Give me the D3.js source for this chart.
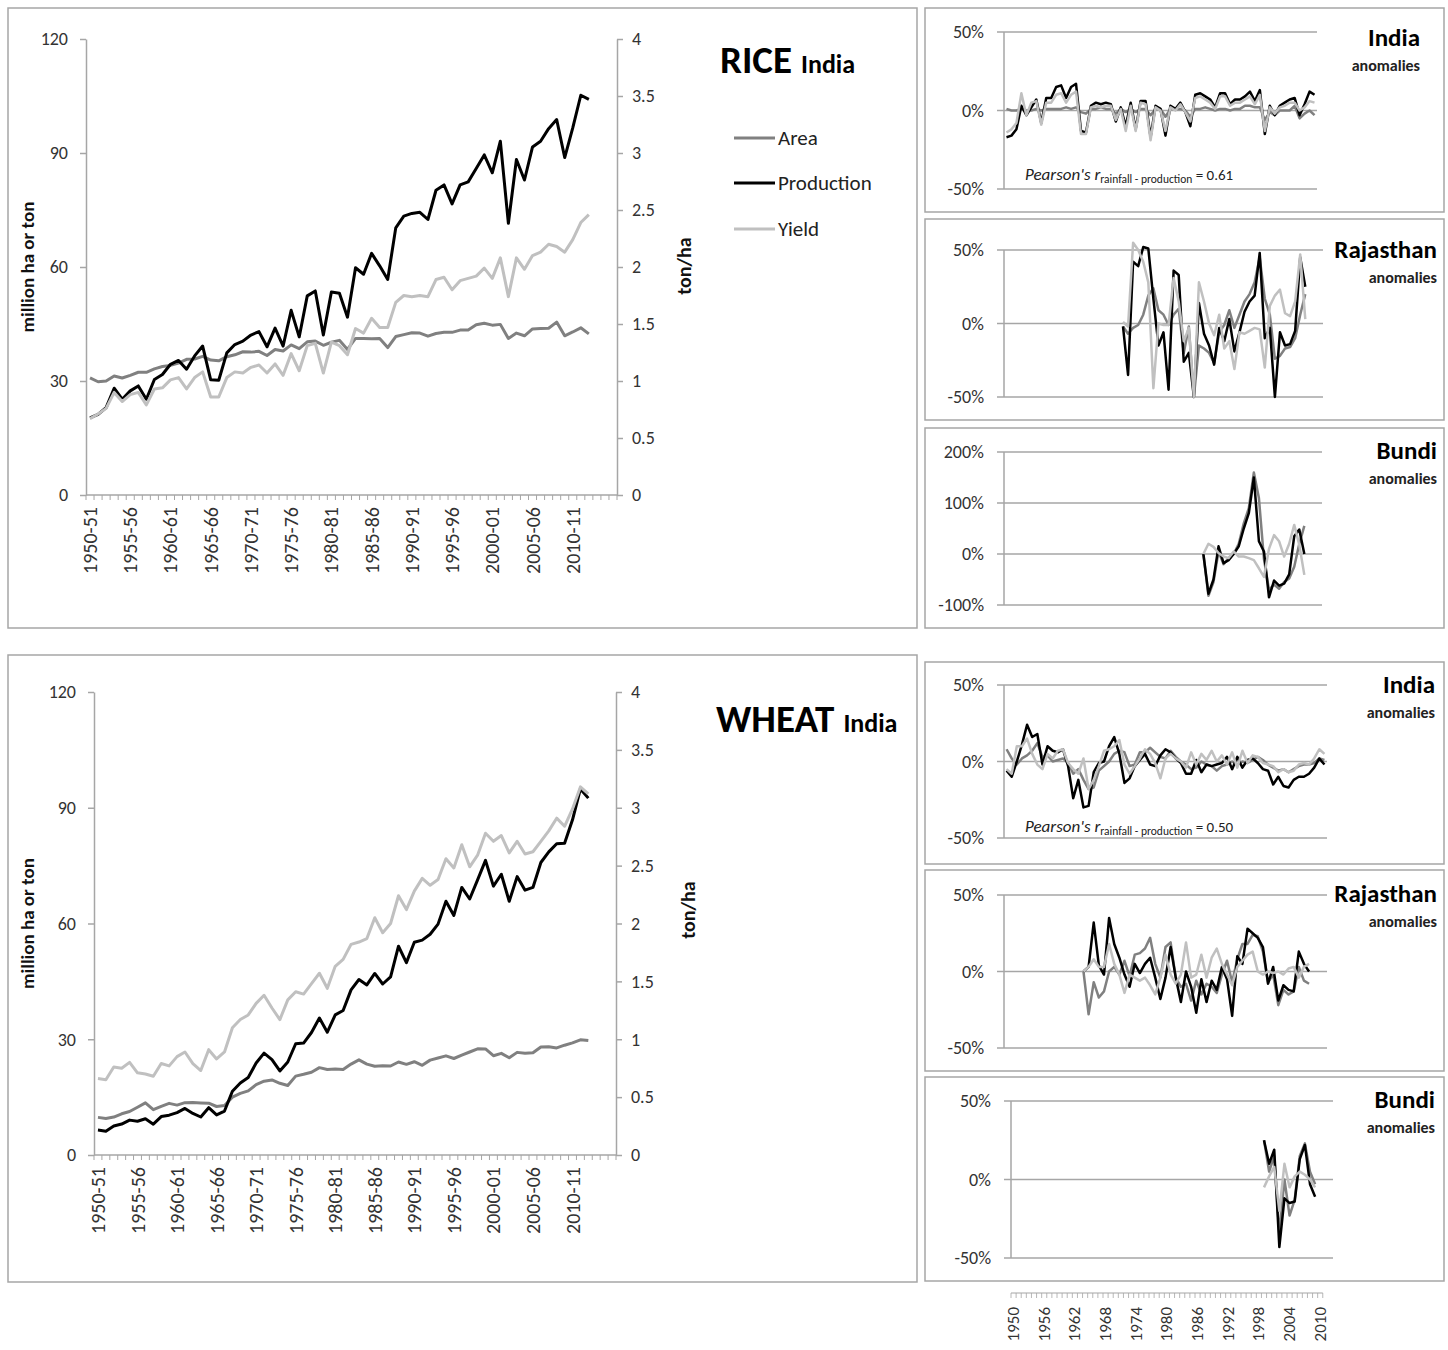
<!DOCTYPE html>
<html>
<head>
<meta charset="utf-8">
<script src="https://cdn.jsdelivr.net/npm/d3@7"></script>
<style>
  body { margin: 0; background: #fff; }
  svg { display: block; }
</style>
</head>
<body>
<div id="chart"></div>
<script>
// ---- categories / ticks ----
const seasons = d3.range(1950, 2016).map(y => y + "-" + String((y + 1) % 100).padStart(2, "0"));
const seasonTicks = ["1950-51", "1955-56", "1960-61", "1965-66", "1970-71", "1975-76", "1980-81",
  "1985-86", "1990-91", "1995-96", "2000-01", "2005-06", "2010-11"];
const leftTicks = [0, 30, 60, 90, 120];
const rightTicks = [0, 0.5, 1, 1.5, 2, 2.5, 3, 3.5, 4];
const anomYears = d3.range(1950, 2013);
const anomYearTicks = [1950, 1956, 1962, 1968, 1974, 1980, 1986, 1992, 1998, 2004, 2010];

// ---- RICE India (million ha, million ton, ton/ha), 1950-51 .. 2012-13 ----
const riceArea = [30.8, 29.8, 30.0, 31.3, 30.8, 31.5, 32.3, 32.3, 33.2, 33.8,
  34.1, 34.7, 35.7, 35.8, 36.5, 35.5, 35.3, 36.4, 36.9, 37.7,
  37.6, 37.8, 36.7, 38.3, 37.9, 39.5, 38.5, 40.3, 40.5, 39.4,
  40.2, 40.7, 38.3, 41.2, 41.2, 41.1, 41.2, 38.8, 41.7, 42.2,
  42.7, 42.6, 41.8, 42.5, 42.8, 42.8, 43.4, 43.4, 44.8, 45.2,
  44.7, 44.9, 41.2, 42.6, 41.9, 43.7, 43.8, 43.9, 45.5, 41.9,
  42.9, 44.0, 42.4];
const riceProd = [20.3, 21.2, 23.0, 28.1, 25.2, 27.4, 28.7, 25.2, 30.4, 31.7,
  34.4, 35.4, 33.1, 36.6, 39.2, 30.3, 30.2, 37.4, 39.6, 40.5,
  42.1, 43.0, 39.0, 43.9, 39.2, 48.6, 41.6, 52.4, 53.7, 42.1,
  53.4, 53.1, 46.8, 59.8, 58.1, 63.6, 60.3, 56.7, 70.3, 73.4,
  74.1, 74.4, 72.5, 80.2, 81.6, 76.6, 81.6, 82.4, 85.9, 89.5,
  84.8, 93.1, 71.5, 88.3, 82.9, 91.6, 93.1, 96.4, 98.8, 88.8,
  96.6, 105.2, 104.1];
const riceYield = [0.67, 0.71, 0.76, 0.90, 0.82, 0.88, 0.90, 0.79, 0.93, 0.94,
  1.01, 1.03, 0.93, 1.03, 1.08, 0.86, 0.86, 1.03, 1.08, 1.07,
  1.12, 1.14, 1.07, 1.15, 1.05, 1.24, 1.09, 1.31, 1.33, 1.07,
  1.34, 1.31, 1.23, 1.46, 1.42, 1.55, 1.47, 1.47, 1.69, 1.75,
  1.74, 1.75, 1.74, 1.89, 1.91, 1.80, 1.88, 1.90, 1.92, 1.99,
  1.90, 2.08, 1.74, 2.08, 1.98, 2.10, 2.13, 2.20, 2.18, 2.13,
  2.24, 2.39, 2.46];

// ---- WHEAT India ----
const wheatArea = [9.75, 9.47, 9.83, 10.68, 11.26, 12.37, 13.52, 11.73, 12.62, 13.38,
  12.93, 13.57, 13.59, 13.50, 13.42, 12.57, 12.84, 14.99, 15.96, 16.63,
  18.24, 19.14, 19.46, 18.58, 18.01, 20.45, 20.92, 21.46, 22.64, 22.17,
  22.28, 22.14, 23.57, 24.67, 23.56, 23.00, 23.13, 23.06, 24.11, 23.50,
  24.17, 23.26, 24.59, 25.15, 25.70, 25.01, 25.89, 26.70, 27.52, 27.49,
  25.73, 26.34, 25.20, 26.60, 26.38, 26.48, 27.99, 28.04, 27.75, 28.46,
  29.07, 29.86, 29.65];
const wheatProd = [6.46, 6.18, 7.50, 8.02, 9.04, 8.76, 9.40, 7.99, 9.96, 10.32,
  11.00, 12.07, 10.78, 9.85, 12.26, 10.40, 11.39, 16.54, 18.65, 20.09,
  23.83, 26.41, 24.74, 21.78, 24.10, 28.84, 29.01, 31.75, 35.51, 31.83,
  36.31, 37.45, 42.79, 45.48, 44.07, 47.05, 44.32, 46.17, 54.11, 49.85,
  55.14, 55.69, 57.21, 59.84, 65.77, 62.10, 69.35, 66.35, 71.29, 76.37,
  69.68, 72.77, 65.76, 72.16, 68.64, 69.35, 75.81, 78.57, 80.68, 80.80,
  86.87, 94.88, 92.50];
const wheatYield = [0.66, 0.65, 0.76, 0.75, 0.80, 0.71, 0.70, 0.68, 0.79, 0.77,
  0.85, 0.89, 0.79, 0.73, 0.91, 0.83, 0.89, 1.10, 1.17, 1.21,
  1.31, 1.38, 1.27, 1.17, 1.34, 1.41, 1.39, 1.48, 1.57, 1.44,
  1.63, 1.69, 1.82, 1.84, 1.87, 2.05, 1.92, 2.00, 2.24, 2.12,
  2.28, 2.39, 2.33, 2.38, 2.56, 2.48, 2.68, 2.49, 2.59, 2.78,
  2.71, 2.76, 2.61, 2.71, 2.60, 2.62, 2.71, 2.80, 2.91, 2.84,
  2.99, 3.18, 3.12];

// ---- anomalies (%) ----
const riceIndiaStart = 1950;
const riceIndiaArea = [1, 0, 0, 1, 0, 0, 1, 0, 1, 1, 1, 1, 2, 1, 2, -1, -2, 1, 1, 2,
  1, 1, -2, 1, -1, 1, -1, 1, 1, -3, 1, 1, -4, 1, 1, 1, 0, -4, 1, 1,
  2, 1, 0, 1, 1, 0, 1, 1, 3, 3, 2, 2, -6, -1, -3, 0, 0, 0, 3, -5, -2, 0, -3];
const riceIndiaProd = [-17, -16, -12, 3, -3, 2, 7, -8, 8, 8, 15, 16, 8, 15, 17, -13, -14, 3, 5, 4,
  5, 4, -7, 2, -10, 5, -12, 6, 6, -17, 3, 1, -16, 3, 1, 5, -1, -10, 10, 11,
  9, 7, 2, 11, 11, 4, 7, 7, 9, 12, 6, 13, -15, 3, -3, 3, 5, 7, 8, -3, 4, 12, 10];
const riceIndiaYield = [-14, -12, -8, 11, -3, 5, 6, -9, 5, 5, 10, 11, 5, 10, 12, -15, -15, 2, 3, 2,
  3, 3, -6, 1, -13, 3, -13, 5, 4, -19, 2, 0, -13, 2, 0, 4, -1, -7, 8, 9,
  7, 5, 1, 9, 9, 3, 5, 5, 7, 9, 4, 10, -13, 2, -2, 2, 3, 5, 5, 0, 2, 6, 5];

const riceRajStart = 1973;
const riceRajArea = [-2, -7, -3, -1, 6, 19, 24, 9, 6, -1, 6, 10, -20, -2, -50, -15, -17, -20, -27, -6,
  -1, 9, -3, 6, 15, 20, 28, 45, 17, 6, -24, -22, -17, -16, -10, 6, 20];
const riceRajProd = [-2, -35, 42, 39, 52, 51, 17, -15, -6, -45, 36, 33, -26, -20, -50, 14, -7, -15, -28, -3,
  -12, 3, -19, -6, 8, 15, 19, 48, -10, -3, -50, -6, -15, -14, -5, 45, 25];
const riceRajYield = [1, -2, 55, 50, 42, 28, -44, 0, -1, -1, 31, 15, -12, -3, -50, 28, 15, 0, -8, 6,
  -17, -12, -31, -6, -7, -5, -3, -4, -30, 12, 19, 23, 7, 5, 15, 47, 3];

const riceBundiStart = 1989;
const riceBundiArea = [0, -82, -55, 5, -20, -8, 0, 20, 60, 90, 160, 110, -10, -70, -60, -68, -55, -48, -25, 20, 55];
const riceBundiProd = [0, -78, -50, 15, -18, -12, 0, 15, 50, 80, 150, 25, 5, -85, -52, -62, -58, -40, 35, 48, 0];
const riceBundiYield = [0, 20, 14, 2, -5, -8, 5, -5, -5, -8, -12, -28, -45, 10, 37, 25, -5, 20, 57, 18, -41];

const wheatIndiaStart = 1950;
const wheatIndiaArea = [8, 2, -2, 2, 4, 7, 12, 3, 4, 0, 1, 2, -1, -8, -5, -12, -18, -17, -6, -3,
  0, 5, 7, 6, -3, -2, 6, 6, 9, 6, 3, 2, 7, 3, 0, -2, -5, -4, 0, -2,
  -3, -6, -3, -2, 0, -2, 0, -1, 1, 3, 1, -2, -4, -6, -5, -7, -5, -3, -2, -2, -1, 2, 1];
const wheatIndiaProd = [-6, -10, 0, 11, 24, 16, 18, -2, 10, 7, 6, 8, -3, -24, -12, -30, -29, -7, -1, 0,
  10, 16, 5, -14, -11, -3, 1, 5, -2, -3, 4, 8, 6, 2, -1, -8, -8, 1, -7, -2,
  -3, -2, -1, 3, -5, 3, -4, 1, 2, -1, -5, -6, -15, -10, -16, -17, -12, -10, -10, -8, -4, 2, -2];
const wheatIndiaYield = [-5, -8, 10, 10, 15, 5, -2, -5, 5, 2, 7, 8, -1, -5, -8, 2, -18, -12, -3, 7,
  8, 10, 14, -2, -8, -3, 2, 8, 5, -1, -11, 2, 5, 2, 0, -4, 6, -2, 5, 1,
  7, 0, 4, -2, 6, -4, 7, -1, 4, 3, -1, -2, -3, -7, -5, -7, -6, -2, -1, -2, 2, 8, 5];

const wheatRajStart = 1965;
const wheatRajArea = [0, -28, -7, -17, -13, 0, 3, -2, 7, -3, 11, 12, 15, 22, 5, -4, 16, 19, -4, -10,
  -8, -19, -6, -15, -8, -10, -14, -2, 7, -7, 8, 18, 18, 24, 23, 13, -7, -2, -22, -12, -15, -13, 3, -6, -8];
const wheatRajProd = [0, 3, 32, 4, -2, 35, 18, 9, -2, -10, 5, -1, 5, 9, -4, -18, -4, 16, -4, -20,
  0, -10, -27, -5, -20, -6, -12, 3, -5, -29, 10, 5, 28, 25, 22, 16, -8, 3, -19, -9, -12, -13, 13, 5, 0];
const wheatRajYield = [0, 3, 8, 3, 3, 18, 5, -2, -14, -2, -4, -6, -4, -9, -15, -4, 11, -2, -8, -2,
  19, -4, -2, 11, -4, 9, 15, 5, -2, -9, 3, 7, 11, 13, 0, -2, 0, -1, 0, -2, 2, 3, -4, 3, 5];

const wheatBundiStart = 1999;
const wheatBundiArea = [25, 5, 15, -35, 0, -23, -13, 15, 23, 5, -3];
const wheatBundiProd = [25, 10, 19, -43, -12, -15, -14, 13, 22, -3, -11];
const wheatBundiYield = [-5, 2, 8, -20, 10, -5, 2, 5, 3, 0, -5];

// ---- drawing ----
const FONT = "Carlito, Calibri, Lato, sans-serif";
const AXIS = "#a6a6a6";
const COL_AREA = "#808080", COL_PROD = "#000000", COL_YIELD = "#c0c0c0";

const svg = d3.select("#chart").append("svg")
  .attr("width", 1448).attr("height", 1350)
  .attr("font-family", FONT);

function box(x0, y0, x1, y1) {
  svg.append("rect")
    .attr("x", x0).attr("y", y0)
    .attr("width", x1 - x0).attr("height", y1 - y0)
    .attr("fill", "none").attr("stroke", AXIS).attr("stroke-width", 1.5);
}

function drawMain(c) {
  box(...c.box);
  const g = svg.append("g");
  const x = d3.scaleBand().domain(seasons).range([c.left, c.right]);
  const y = d3.scaleLinear().domain([0, 120]).range([c.bottom, c.top]);
  const y2 = d3.scaleLinear().domain([0, 4]).range([c.bottom, c.top]);

  const gl = g.append("g").attr("transform", `translate(${c.left},0)`)
    .call(d3.axisLeft(y).tickValues(leftTicks).tickSize(6).tickSizeOuter(0).tickPadding(12));
  const gr = g.append("g").attr("transform", `translate(${c.right},0)`)
    .call(d3.axisRight(y2).tickValues(rightTicks).tickFormat(d => String(d))
      .tickSize(6).tickSizeOuter(0).tickPadding(9));
  [gl, gr].forEach(a => {
    a.selectAll("path, line").attr("stroke", AXIS).attr("stroke-width", 1.5);
    a.selectAll("text").attr("font-family", FONT).attr("font-size", 18).attr("fill", "#333");
  });

  // category axis (Excel style ticks between categories)
  g.append("line")
    .attr("x1", c.left).attr("x2", c.right).attr("y1", c.bottom).attr("y2", c.bottom)
    .attr("stroke", AXIS).attr("stroke-width", 1.5);
  const edges = seasons.map(s => x(s)).concat([c.right]);
  g.selectAll(".ctick").data(edges).join("line").attr("class", "ctick")
    .attr("x1", d => d).attr("x2", d => d)
    .attr("y1", c.bottom).attr("y2", c.bottom + 5)
    .attr("stroke", AXIS).attr("stroke-width", 1);
  g.selectAll(".clab").data(seasonTicks).join("text").attr("class", "clab")
    .attr("transform", d => `translate(${x(d) + x.bandwidth() / 2},${c.bottom + 12}) rotate(-90)`)
    .attr("text-anchor", "end").attr("dominant-baseline", "central")
    .attr("font-size", 20).attr("fill", "#333").text(d => d);

  // axis titles
  g.append("text")
    .attr("transform", `translate(${c.yTitleX},${(c.top + c.bottom) / 2}) rotate(-90)`)
    .attr("text-anchor", "middle").attr("dominant-baseline", "central")
    .attr("font-weight", "bold").attr("font-size", 19).attr("fill", "#111")
    .text("million ha or ton");
  g.append("text")
    .attr("transform", `translate(${c.y2TitleX},${c.y2TitleY}) rotate(-90)`)
    .attr("text-anchor", "middle").attr("dominant-baseline", "central")
    .attr("font-weight", "bold").attr("font-size", 20).attr("fill", "#111")
    .text("ton/ha");

  // series
  const cx = (d, i) => x(seasons[i]) + x.bandwidth() / 2;
  [[c.area, y, COL_AREA], [c.prod, y, COL_PROD], [c.yld, y2, COL_YIELD]].forEach(([vals, sc, col]) => {
    g.append("path").datum(vals)
      .attr("fill", "none").attr("stroke", col).attr("stroke-width", 3)
      .attr("stroke-linejoin", "round")
      .attr("d", d3.line().x(cx).y(d => sc(d)));
  });

  // title
  const t = g.append("text").attr("x", c.titleX).attr("y", c.titleY)
    .attr("font-weight", "bold").attr("fill", "#000");
  t.append("tspan").attr("font-size", 39).text(c.title);
  t.append("tspan").attr("font-size", 26).attr("dx", 9).text("India");

  if (c.legend) {
    const items = [["Area", COL_AREA, 138], ["Production", COL_PROD, 183], ["Yield", COL_YIELD, 229]];
    items.forEach(([name, col, ly]) => {
      g.append("line").attr("x1", 734).attr("x2", 775).attr("y1", ly).attr("y2", ly)
        .attr("stroke", col).attr("stroke-width", 3);
      g.append("text").attr("x", 778).attr("y", ly).attr("dominant-baseline", "central")
        .attr("font-size", 21).attr("fill", "#222").text(name);
    });
  }
}

function drawAnom(c) {
  box(...c.box);
  const g = svg.append("g");
  const x = d3.scaleBand().domain(anomYears).range([c.left, c.right]);
  const y = d3.scaleLinear().domain(c.domain).range([c.bottom, c.top]);

  g.selectAll(".grid").data(c.ticks).join("line").attr("class", "grid")
    .attr("x1", c.left - 7).attr("x2", c.right)
    .attr("y1", d => y(d)).attr("y2", d => y(d))
    .attr("stroke", AXIS).attr("stroke-width", 1.5);
  g.append("line")
    .attr("x1", c.left).attr("x2", c.left)
    .attr("y1", y(c.domain[0])).attr("y2", y(c.domain[1]))
    .attr("stroke", AXIS).attr("stroke-width", 1.5);
  g.selectAll(".tlab").data(c.ticks).join("text").attr("class", "tlab")
    .attr("x", c.left - 20).attr("y", d => y(d))
    .attr("text-anchor", "end").attr("dominant-baseline", "central")
    .attr("font-size", 18).attr("fill", "#333").text(d => d + "%");

  [[c.area, COL_AREA], [c.prod, COL_PROD], [c.yld, COL_YIELD]].forEach(([vals, col]) => {
    g.append("path").datum(vals)
      .attr("fill", "none").attr("stroke", col).attr("stroke-width", 2.5)
      .attr("stroke-linejoin", "round")
      .attr("d", d3.line()
        .x((d, i) => x(c.start + i) + x.bandwidth() / 2)
        .y(d => y(d)));
  });

  g.append("text").attr("x", c.titleX).attr("y", c.titleY)
    .attr("text-anchor", "end").attr("font-weight", "bold").attr("font-size", 25)
    .attr("fill", "#000").text(c.title);
  g.append("text").attr("x", c.titleX).attr("y", c.titleY + 25)
    .attr("text-anchor", "end").attr("font-weight", "bold").attr("font-size", 16)
    .attr("fill", "#222").text("anomalies");

  if (c.r) {
    const p = g.append("text").attr("x", 1025).attr("y", c.rY)
      .attr("font-size", 14).attr("fill", "#222");
    p.append("tspan").attr("font-style", "italic").attr("font-size", 17).text("Pearson's r");
    p.append("tspan").attr("font-size", 11.5).attr("dy", 3).text("rainfall - production");
    p.append("tspan").attr("dy", -3).attr("font-size", 15).text(" = " + c.r);
  }

  if (c.yearAxis) {
    const ay = c.yearAxis;
    const last = x(2010) + x.bandwidth();
    g.append("line").attr("x1", c.left).attr("x2", last).attr("y1", ay).attr("y2", ay)
      .attr("stroke", AXIS).attr("stroke-width", 1.2);
    const edges = anomYears.filter(v => v <= 2010).map(v => x(v)).concat([last]);
    g.selectAll(".ytick").data(edges).join("line").attr("class", "ytick")
      .attr("x1", d => d).attr("x2", d => d).attr("y1", ay).attr("y2", ay + 5)
      .attr("stroke", AXIS).attr("stroke-width", 0.8);
    g.selectAll(".ylab").data(anomYearTicks).join("text").attr("class", "ylab")
      .attr("transform", d => `translate(${x(d) + x.bandwidth() / 2},${ay + 14}) rotate(-90)`)
      .attr("text-anchor", "end").attr("dominant-baseline", "central")
      .attr("font-size", 17).attr("fill", "#333").text(d => d);
  }
}

drawMain({
  box: [8, 8, 917, 628], left: 86, right: 617, top: 39, bottom: 495,
  area: riceArea, prod: riceProd, yld: riceYield,
  yTitleX: 27, y2TitleX: 684, y2TitleY: 266,
  title: "RICE", titleX: 720, titleY: 73, legend: true
});
drawMain({
  box: [8, 655, 917, 1282], left: 94, right: 616, top: 692, bottom: 1155,
  area: wheatArea, prod: wheatProd, yld: wheatYield,
  yTitleX: 27, y2TitleX: 688, y2TitleY: 910,
  title: "WHEAT", titleX: 716, titleY: 732, legend: false
});

drawAnom({
  box: [925, 8, 1444, 212], left: 1004, right: 1317, top: 32, bottom: 189,
  domain: [-50, 50], ticks: [-50, 0, 50],
  start: riceIndiaStart, area: riceIndiaArea, prod: riceIndiaProd, yld: riceIndiaYield,
  title: "India", titleX: 1420, titleY: 46, r: "0.61", rY: 180
});
drawAnom({
  box: [925, 219, 1444, 420], left: 1004, right: 1323, top: 250, bottom: 397,
  domain: [-50, 50], ticks: [-50, 0, 50],
  start: riceRajStart, area: riceRajArea, prod: riceRajProd, yld: riceRajYield,
  title: "Rajasthan", titleX: 1437, titleY: 258
});
drawAnom({
  box: [925, 428, 1444, 628], left: 1004, right: 1322, top: 452, bottom: 605,
  domain: [-100, 200], ticks: [-100, 0, 100, 200],
  start: riceBundiStart, area: riceBundiArea, prod: riceBundiProd, yld: riceBundiYield,
  title: "Bundi", titleX: 1437, titleY: 459
});
drawAnom({
  box: [925, 662, 1444, 864], left: 1004, right: 1327, top: 685, bottom: 838,
  domain: [-50, 50], ticks: [-50, 0, 50],
  start: wheatIndiaStart, area: wheatIndiaArea, prod: wheatIndiaProd, yld: wheatIndiaYield,
  title: "India", titleX: 1435, titleY: 693, r: "0.50", rY: 832
});
drawAnom({
  box: [925, 870, 1444, 1071], left: 1004, right: 1327, top: 895, bottom: 1048,
  domain: [-50, 50], ticks: [-50, 0, 50],
  start: wheatRajStart, area: wheatRajArea, prod: wheatRajProd, yld: wheatRajYield,
  title: "Rajasthan", titleX: 1437, titleY: 902
});
drawAnom({
  box: [925, 1077, 1444, 1281], left: 1011, right: 1333, top: 1101, bottom: 1258,
  domain: [-50, 50], ticks: [-50, 0, 50],
  start: wheatBundiStart, area: wheatBundiArea, prod: wheatBundiProd, yld: wheatBundiYield,
  title: "Bundi", titleX: 1435, titleY: 1108, yearAxis: 1293
});
</script>
</body>
</html>
